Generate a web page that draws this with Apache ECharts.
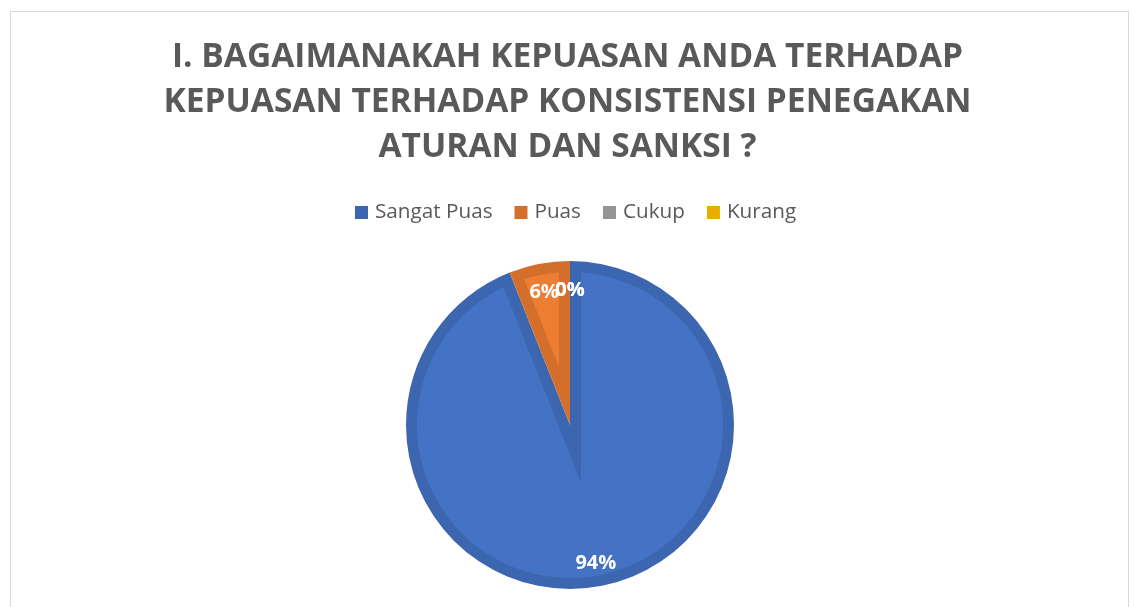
<!DOCTYPE html>
<html>
<head>
<meta charset="utf-8">
<script src="https://cdn.jsdelivr.net/npm/echarts@6/dist/echarts.min.js"></script>
<style>
  html, body { margin: 0; padding: 0; background: #ffffff; }
  #frame { position: absolute; left: 10px; top: 11px; width: 1119px; height: 620px; border: 1px solid #d9d9d9; box-sizing: border-box; }
  #main { position: absolute; left: 0; top: 0; width: 1135px; height: 607px; }
</style>
</head>
<body>
<div id="frame"></div>
<div id="main"></div>
<script>
// ---- data ----
const titleText = 'I. BAGAIMANAKAH KEPUASAN ANDA TERHADAP\nKEPUASAN TERHADAP KONSISTENSI PENEGAKAN\nATURAN DAN SANKSI ?';
const categories = ['Sangat Puas', 'Puas', 'Cukup', 'Kurang'];
const values = [94, 6, 0, 0];

// ---- styles ----
const lightColors = ['#4472c4', '#ed7d31', '#a5a5a5', '#ffc000'];
const darkColors  = ['#3d66b1', '#d46f2b', '#959595', '#e6ac00'];
const CENTER = [570, 425];
const R_OUT = 164;
const INSET = 11;
const LABEL_R = 138;
const LABEL_DY = 3;
const FONT = "'Open Sans', 'Noto Sans', sans-serif";

const total = values.reduce((a, b) => a + b, 0);

const chart = echarts.init(document.getElementById('main'), null, { renderer: 'canvas' });

function renderInset(params, api) {
  const i = params.dataIndex;
  const v = values[i];
  const children = [];
  if (!total) return { type: 'group', children };
  let start = 0;
  for (let k = 0; k < i; k++) start += values[k];
  const p0 = start / total * 2 * Math.PI;
  const p1 = (start + v) / total * 2 * Math.PI;
  const th = p1 - p0;
  const cx = CENTER[0], cy = CENTER[1];
  const R = R_OUT - INSET;
  const pt = (phi, r) => [cx + r * Math.sin(phi), cy - r * Math.cos(phi)];
  if (v > 0) {
    const pts = [];
    if (th >= 2 * Math.PI - 1e-6) {
      for (let j = 0; j < 360; j++) pts.push(pt(j / 360 * 2 * Math.PI, R));
    } else {
      const s = INSET / Math.sin(th / 2);
      const da = Math.asin(INSET / R);
      const a0 = p0 + da, a1 = p1 - da;
      if (a1 > a0) {
        pts.push(pt(p0 + th / 2, s));
        const n = Math.max(2, Math.ceil((a1 - a0) / 0.01));
        for (let j = 0; j <= n; j++) pts.push(pt(a0 + (a1 - a0) * j / n, R));
      }
    }
    if (pts.length) {
      children.push({ type: 'polygon', shape: { points: pts }, style: { fill: lightColors[i] }, silent: true });
    }
  }
  const lp = pt(p0 + th / 2, LABEL_R);
  children.push({
    type: 'text',
    x: lp[0],
    y: lp[1] + LABEL_DY,
    z2: 10,
    silent: true,
    style: {
      text: Math.round(v / total * 100) + '%',
      fill: '#ffffff',
      font: "bold 20px " + FONT,
      align: 'center',
      verticalAlign: 'middle'
    }
  });
  return { type: 'group', children };
}

const option = {
  backgroundColor: 'transparent',
  animation: false,
  title: {
    text: titleText,
    left: 'center',
    top: 30,
    textStyle: {
      fontFamily: FONT,
      fontSize: 33.5,
      fontWeight: 'bold',
      color: '#595959',
      lineHeight: 45
    }
  },
  legend: {
    data: categories,
    top: 197,
    left: 350,
    icon: 'rect',
    itemWidth: 13,
    itemHeight: 13,
    itemGap: 22,
    selectedMode: false,
    textStyle: { fontFamily: FONT, fontSize: 20.7, color: '#595959', padding: [0, 0, 0, 2] }
  },
  series: [
    {
      name: 'base',
      type: 'pie',
      z: 1,
      center: CENTER,
      radius: R_OUT,
      startAngle: 90,
      clockwise: true,
      silent: true,
      label: { show: false },
      labelLine: { show: false },
      emphasis: { disabled: true },
      data: categories.map((c, i) => ({ name: c, value: values[i], itemStyle: { color: darkColors[i] } }))
    },
    {
      name: 'inset',
      type: 'custom',
      coordinateSystem: 'none',
      z: 2,
      silent: true,
      renderItem: renderInset,
      data: values.map((v, i) => [i, v])
    }
  ]
};

chart.setOption(option);
</script>
</body>
</html>
